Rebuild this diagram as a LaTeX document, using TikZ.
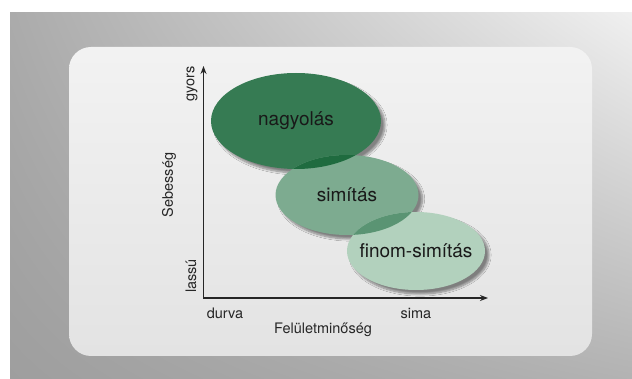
\documentclass[tikz,border=0pt]{standalone}
\usepackage{fontspec}
\setmainfont{TeX Gyre Heros}
\usetikzlibrary{positioning, shapes.geometric, shadings, arrows.meta, shadows.blur}

\definecolor{roughgreen}{HTML}{367B53}
\definecolor{smoothgreen}{HTML}{7DAB90}
\definecolor{finegreen}{HTML}{B2D1BD}
\definecolor{roughsmooth}{HTML}{1F6B3F}
\definecolor{smoothfine}{HTML}{5A9473}

\tikzset{
  phase/.style={ellipse, inner sep=0pt,
    blur shadow={shadow xshift=4pt, shadow yshift=-4pt, shadow blur steps=8, shadow opacity=45}},
  phasename/.style={font=\fontsize{19}{22}\selectfont, text=black!90},
  axislabel/.style={font=\fontsize{14.5}{17}\selectfont, text=black!85},
  axisline/.style={line width=1.4pt, draw=black!85,
    {Stealth[length=8pt, width=6pt]}-{Stealth[length=8pt, width=6pt]}}
}

\begin{document}
\begin{tikzpicture}[x=1pt, y=-1pt]

  \useasboundingbox (0,0) rectangle (632,379);

  \shade[upper left=black!33!white, upper right=black!6!white,
    lower left=black!38!white, lower right=black!30!white] (10,13) rectangle (632,379);
  \shade[top color=black!5!white, bottom color=black!11!white, rounded corners=22pt]
    (69,47) rectangle (592,356);

  \node[phase, fill=roughgreen, minimum width=170pt, minimum height=96pt] (rough) at (296,121) {};
  \node[phase, fill=smoothgreen, minimum width=143pt, minimum height=80pt] (smooth) at (347,195) {};
  \node[phase, fill=finegreen, minimum width=138pt, minimum height=78pt] (fine) at (416,251) {};

  \begin{scope}
    \clip (rough.center) ellipse [x radius=85pt, y radius=48pt];
    \fill[roughsmooth] (smooth.center) ellipse [x radius=71.5pt, y radius=40pt];
  \end{scope}
  \begin{scope}
    \clip (smooth.center) ellipse [x radius=71.5pt, y radius=40pt];
    \fill[smoothfine] (fine.center) ellipse [x radius=69pt, y radius=39pt];
  \end{scope}

  \node[phasename] (rough name) at (rough) {nagyolás};
  \node[phasename] (smooth name) at (smooth) {simítás};
  \node[phasename] (fine name) at (fine) {finom-simítás};

  \coordinate (ytip) at (203.5,66);
  \coordinate (xtip) at (488,298);
  \draw[axisline] (ytip) |- (xtip);

  \node[axislabel, rotate=90] (fast) at (192,84) {gyors};
  \node[axislabel, rotate=90] (speed) at (169,185) {Sebesség};
  \node[axislabel, rotate=90] (slow) at (191,276) {lassú};
  \node[axislabel] (coarse) at (225,313) {durva};
  \node[axislabel] (smoothend) at (416,313) {sima};
  \node[axislabel] (quality) at (323,330) {Felületminőség};

\end{tikzpicture}
\end{document}
